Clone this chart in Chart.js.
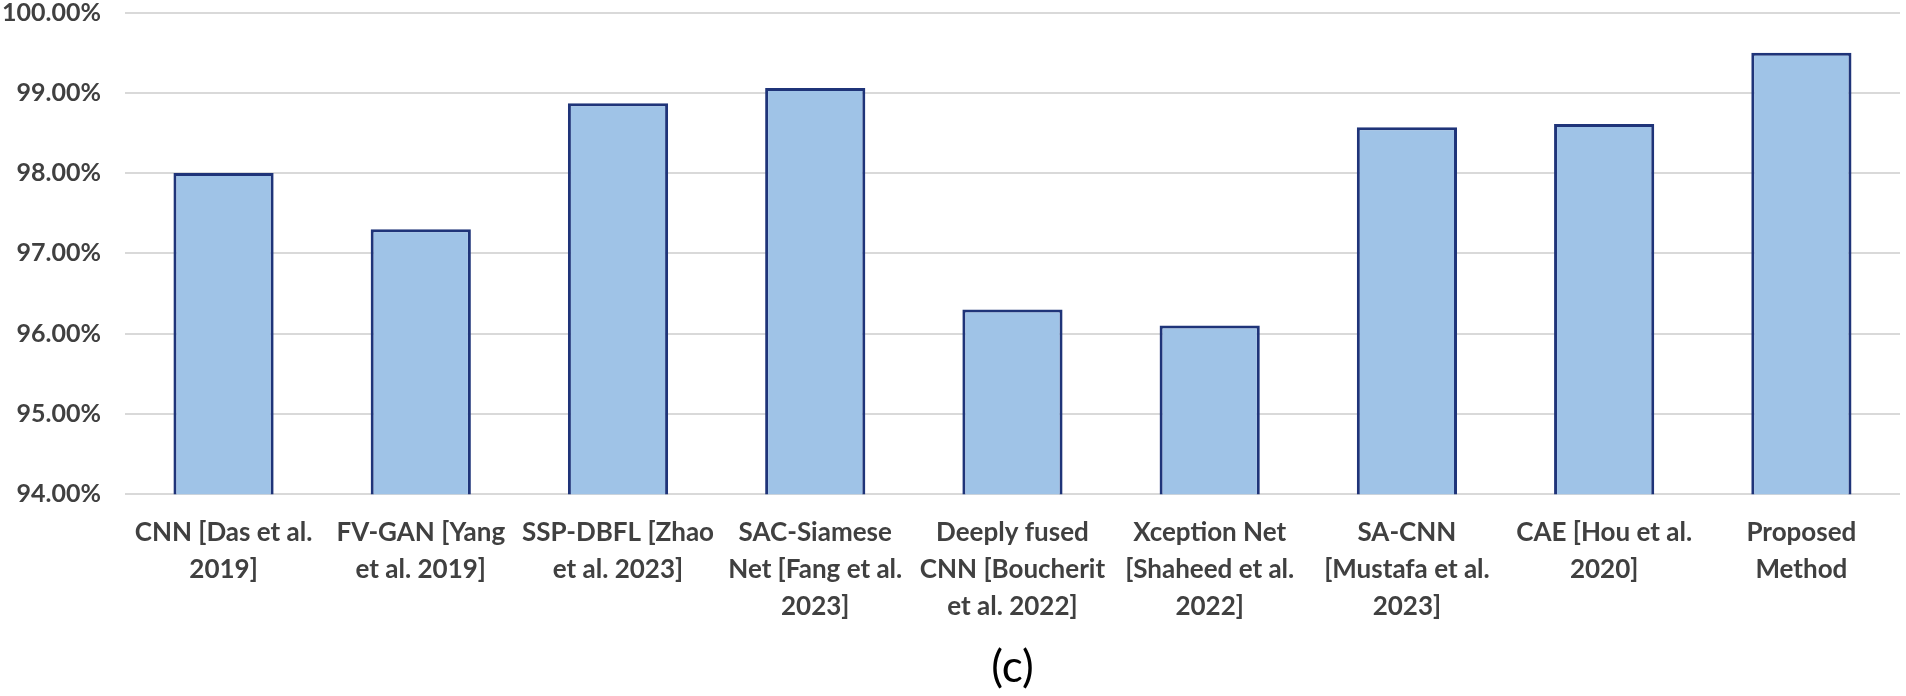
<!DOCTYPE html>
<html>
<head>
<meta charset="utf-8">
<script src="https://cdn.jsdelivr.net/npm/chart.js@4"></script>
<style>
  body { margin: 0; background: #ffffff; }
  canvas { display: block; }
</style>
</head>
<body>
<canvas id="accChart" width="1906" height="696"></canvas>
<script>
// categories (multi-line labels as shown under each bar)
const methods = [
    ['CNN [Das et al.', '2019]'],
    ['FV-GAN [Yang', 'et al. 2019]'],
    ['SSP-DBFL [Zhao', 'et al. 2023]'],
    ['SAC-Siamese', 'Net [Fang et al.', '2023]'],
    ['Deeply fused', 'CNN [Boucherit', 'et al. 2022]'],
    ['Xception Net', '[Shaheed et al.', '2022]'],
    ['SA-CNN', '[Mustafa et al.', '2023]'],
    ['CAE [Hou et al.', '2020]'],
    ['Proposed', 'Method']
];

// accuracy in percent
const accuracy = [98.00, 97.30, 98.87, 99.06, 96.30, 96.10, 98.57, 98.61, 99.50];

// y axis range / ticks
const yMin = 94;
const yMax = 100;
const yStep = 1;

const textColor = '#404040';

document.addEventListener('DOMContentLoaded', function () {
    const ctx = document.getElementById('accChart').getContext('2d');

    new Chart(ctx, {
        type: 'bar',
        data: {
            labels: methods,
            datasets: [{
                data: accuracy,
                backgroundColor: '#9fc3e7',
                borderColor: '#1f3479',
                borderWidth: 3,
                borderSkipped: false,
                categoryPercentage: 1.0,
                barPercentage: 0.508
            }]
        },
        options: {
            responsive: false,
            devicePixelRatio: 1,
            animation: false,
            layout: {
                padding: { top: 0, left: 2, right: 6, bottom: 0 }
            },
            plugins: {
                legend: { display: false },
                tooltip: { enabled: false },
                title: {
                    display: true,
                    text: '(c)',
                    position: 'bottom',
                    fullSize: false,
                    color: '#000000',
                    font: { family: 'Lato', size: 44, weight: 'normal', lineHeight: 1.16 },
                    padding: { top: 5, bottom: 3 }
                }
            },
            scales: {
                x: {
                    grid: { display: false },
                    border: { display: false },
                    ticks: {
                        color: textColor,
                        font: { family: 'Lato', size: 26, weight: 'bold', lineHeight: 1.42 },
                        maxRotation: 0,
                        autoSkip: false,
                        padding: 12
                    }
                },
                y: {
                    min: yMin,
                    max: yMax,
                    border: { display: false },
                    grid: {
                        color: '#d9d9d9',
                        lineWidth: 2,
                        drawTicks: true,
                        tickLength: 24,
                        tickColor: 'rgba(0,0,0,0)'
                    },
                    ticks: {
                        stepSize: yStep,
                        color: textColor,
                        padding: 0,
                        font: { family: 'Lato', size: 25, weight: 'bold', lineHeight: 1.0 },
                        callback: function (value) {
                            return value.toFixed(2) + '%';
                        }
                    }
                }
            }
        }
    });
});
</script>
</body>
</html>
